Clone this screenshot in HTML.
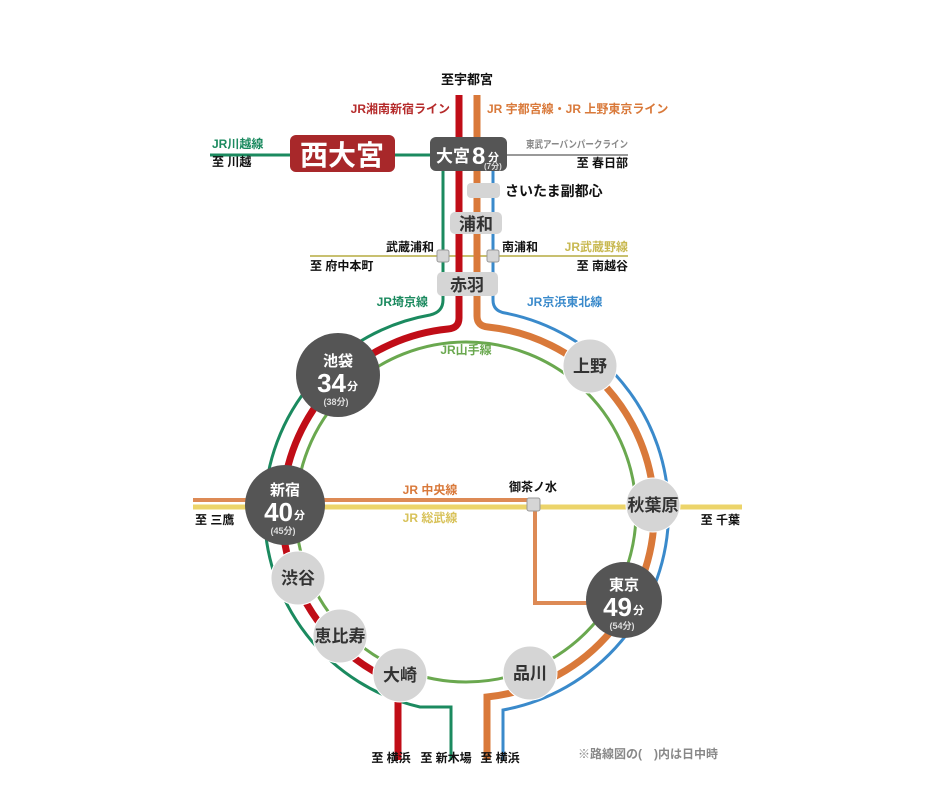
<!DOCTYPE html>
<html><head><meta charset="utf-8"><style>
body{margin:0;background:#fff}
svg{display:block}
text{font-family:"Liberation Sans","Noto Sans CJK JP",sans-serif;font-weight:bold}
</style></head><body>
<svg width="948" height="800" viewBox="0 0 948 800" xmlns="http://www.w3.org/2000/svg">
<line x1="210" y1="155" x2="430" y2="155" stroke="#1b8a5f" stroke-width="3"/>
<line x1="507" y1="155" x2="628" y2="155" stroke="#999" stroke-width="2"/>
<line x1="310" y1="256" x2="628" y2="256" stroke="#c8c070" stroke-width="2"/>
<circle cx="466" cy="512" r="170" fill="none" stroke="#6aa84f" stroke-width="3"/>
<line x1="193" y1="507" x2="742" y2="507" stroke="#ecd46a" stroke-width="5"/>
<polyline points="193,500 535,500 535,603 595,603" fill="none" stroke="#dd8a55" stroke-width="4"/>
<path d="M443 171 L443 300 Q443 312 430 315 A200 200 0 0 0 420 707 L451 707 L451 760" fill="none" stroke="#1b8a5f" stroke-width="3"/>
<path d="M493 171 L493 300 Q493 311 505 313 A202 202 0 0 1 503 710 L503 760" fill="none" stroke="#3a8acb" stroke-width="3"/>
<path d="M459 95 L459 318 Q459 328 448 329 A184 184 0 0 0 398 683 L398 760" fill="none" stroke="#c00d17" stroke-width="7"/>
<path d="M477 95 L477 316 Q477 326 488 327 A186 186 0 0 1 487 697 L487 760" fill="none" stroke="#d9793a" stroke-width="7"/>
<rect x="290" y="135" width="105" height="37" rx="6" fill="#a8282a"/>
<text x="342" y="165" font-size="28" fill="#fff" text-anchor="middle">西大宮</text>
<rect x="430" y="137" width="77" height="34" rx="6" fill="#555"/>
<text x="436" y="162" font-size="17" fill="#fff">大宮</text>
<text x="472" y="164" font-size="24" fill="#fff" font-weight="normal">8</text>
<text x="488" y="161" font-size="11" fill="#fff">分</text>
<text x="484" y="169" font-size="8" fill="#ddd" font-weight="normal">(7分)</text>
<rect x="467" y="183" width="33" height="15" rx="4" fill="#d5d5d5"/>
<text x="505" y="196" font-size="14" fill="#111">さいたま副都心</text>
<rect x="450" y="212" width="52" height="22" rx="5" fill="#d5d5d5"/>
<text x="476" y="230" font-size="17" fill="#333" text-anchor="middle">浦和</text>
<rect x="437" y="272" width="61" height="24" rx="5" fill="#d5d5d5"/>
<text x="467" y="291" font-size="17" fill="#333" text-anchor="middle">赤羽</text>
<rect x="437" y="250" width="12" height="12" rx="2" fill="#d5d5d5" stroke="#999"/>
<rect x="487" y="250" width="12" height="12" rx="2" fill="#d5d5d5" stroke="#999"/>
<text x="467" y="84" font-size="13" fill="#111" text-anchor="middle">至宇都宮</text>
<text x="450" y="113" font-size="12" fill="#b52a2a" text-anchor="end" font-weight="normal">JR湘南新宿ライン</text>
<text x="487" y="113" font-size="12" fill="#d9793a" font-weight="normal">JR 宇都宮線・JR 上野東京ライン</text>
<text x="212" y="148" font-size="12" fill="#1b8a5f" font-weight="normal">JR川越線</text>
<text x="212" y="166" font-size="12" fill="#111">至 川越</text>
<text x="526" y="148" font-size="10" fill="#888" font-weight="normal" textLength="102" lengthAdjust="spacingAndGlyphs">東武アーバンパークライン</text>
<text x="628" y="167" font-size="12" fill="#111" text-anchor="end">至 春日部</text>
<text x="434" y="251" font-size="12" fill="#111" text-anchor="end">武蔵浦和</text>
<text x="310" y="270" font-size="12" fill="#111">至 府中本町</text>
<text x="502" y="251" font-size="12" fill="#111">南浦和</text>
<text x="628" y="251" font-size="12" fill="#c8b850" text-anchor="end" font-weight="normal">JR武蔵野線</text>
<text x="628" y="270" font-size="12" fill="#111" text-anchor="end">至 南越谷</text>
<text x="428" y="306" font-size="12" fill="#1b8a5f" text-anchor="end" font-weight="normal">JR埼京線</text>
<text x="527" y="306" font-size="12" fill="#3a8acb" font-weight="normal">JR京浜東北線</text>
<text x="466" y="354" font-size="12" fill="#6aa84f" text-anchor="middle" font-weight="normal">JR山手線</text>
<text x="430" y="494" font-size="12" fill="#d9793a" text-anchor="middle" font-weight="normal">JR 中央線</text>
<text x="430" y="522" font-size="12" fill="#d8c25a" text-anchor="middle" font-weight="normal">JR 総武線</text>
<text x="533" y="491" font-size="12" fill="#111" text-anchor="middle">御茶ノ水</text>
<rect x="527" y="498" width="13" height="13" rx="2" fill="#d5d5d5" stroke="#999"/>
<text x="195" y="524" font-size="12" fill="#111">至 三鷹</text>
<text x="740" y="524" font-size="12" fill="#111" text-anchor="end">至 千葉</text>
<circle cx="338" cy="375" r="42" fill="#555"/>
<text x="338" y="366" font-size="15" fill="#fff" text-anchor="middle">池袋</text>
<text x="346" y="392" font-size="26" fill="#fff" text-anchor="end" font-weight="normal">34</text>
<text x="347" y="390" font-size="11" fill="#fff">分</text>
<text x="336" y="405" font-size="9" fill="#ddd" text-anchor="middle" font-weight="normal">(38分)</text>
<circle cx="285" cy="505" r="40" fill="#555"/>
<text x="285" y="495" font-size="15" fill="#fff" text-anchor="middle">新宿</text>
<text x="293" y="521" font-size="26" fill="#fff" text-anchor="end" font-weight="normal">40</text>
<text x="294" y="519" font-size="11" fill="#fff">分</text>
<text x="283" y="534" font-size="9" fill="#ddd" text-anchor="middle" font-weight="normal">(45分)</text>
<circle cx="624" cy="600" r="38" fill="#555"/>
<text x="624" y="590" font-size="15" fill="#fff" text-anchor="middle">東京</text>
<text x="632" y="616" font-size="26" fill="#fff" text-anchor="end" font-weight="normal">49</text>
<text x="633" y="614" font-size="11" fill="#fff">分</text>
<text x="622" y="629" font-size="9" fill="#ddd" text-anchor="middle" font-weight="normal">(54分)</text>
<g fill="#d5d5d5" stroke="#fff" stroke-width="1">
<circle cx="590" cy="366" r="27"/>
<circle cx="653" cy="505" r="27"/>
<circle cx="298" cy="578" r="27"/>
<circle cx="340" cy="636" r="27"/>
<circle cx="400" cy="675" r="27"/>
<circle cx="530" cy="673" r="27"/>
</g>
<g font-size="17" fill="#333" text-anchor="middle">
<text x="590" y="372">上野</text>
<text x="653" y="511">秋葉原</text>
<text x="298" y="584">渋谷</text>
<text x="340" y="642">恵比寿</text>
<text x="400" y="681">大崎</text>
<text x="530" y="679">品川</text>
</g>
<text x="391" y="762" font-size="12" fill="#111" text-anchor="middle">至 横浜</text>
<text x="446" y="762" font-size="12" fill="#111" text-anchor="middle">至 新木場</text>
<text x="500" y="762" font-size="12" fill="#111" text-anchor="middle">至 横浜</text>
<text x="578" y="758" font-size="12" fill="#888" font-weight="normal">※路線図の(　)内は日中時</text>
</svg>
</body></html>
